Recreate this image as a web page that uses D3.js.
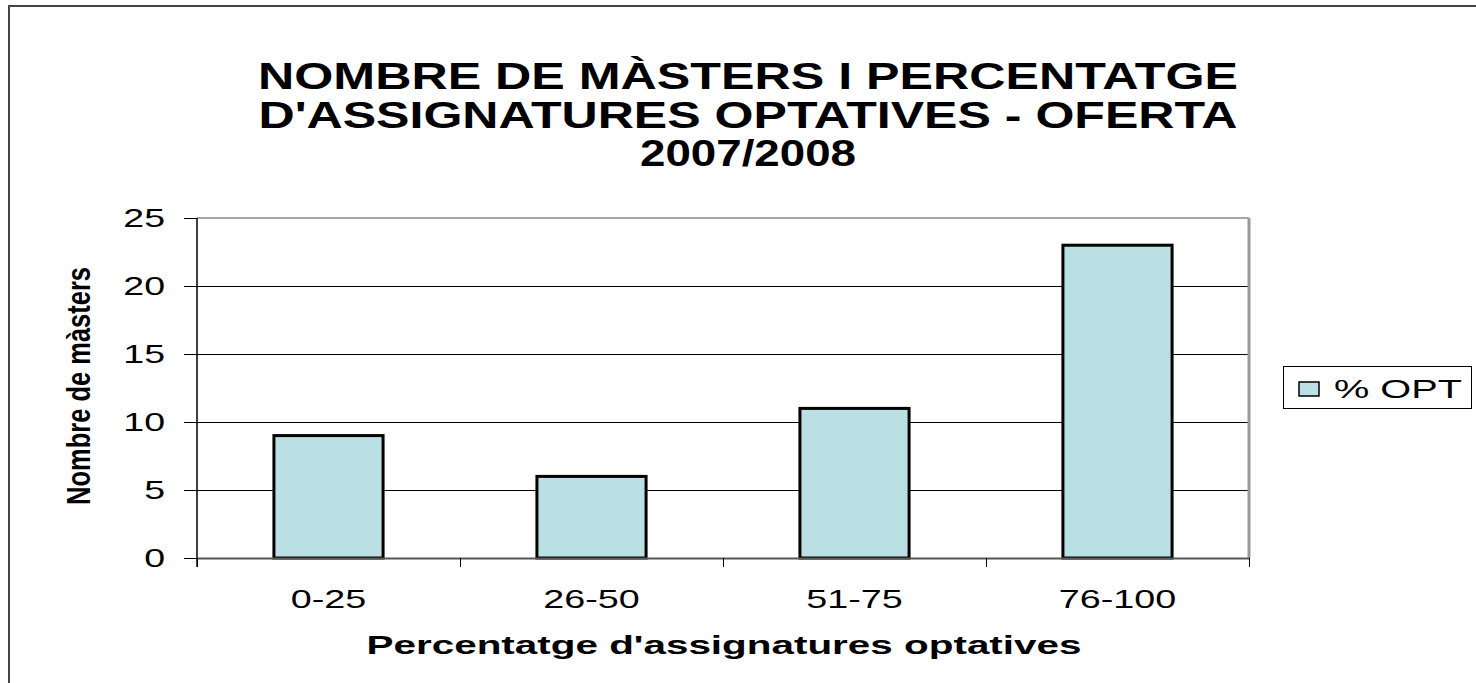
<!DOCTYPE html>
<html>
<head>
<meta charset="utf-8">
<script src="https://cdn.jsdelivr.net/npm/d3@7"></script>
<style>
  html, body { margin: 0; padding: 0; background: #fff; }
  svg { display: block; font-family: "Liberation Sans", Arial, sans-serif; }
</style>
</head>
<body>
<svg id="chart" width="1476" height="683"></svg>
<script>
// ---- data ----
const categories = ["0-25", "26-50", "51-75", "76-100"];
const values = [9, 6, 11, 23];
const yTicks = [0, 5, 10, 15, 20, 25];
const seriesName = "% OPT";
const titleLines = ["NOMBRE DE MÀSTERS I PERCENTATGE", "D'ASSIGNATURES OPTATIVES - OFERTA", "2007/2008"];
const yTitle = "Nombre de màsters";
const xTitle = "Percentatge d'assignatures optatives";

// ---- drawing ----
const svg = d3.select("#chart");
const barFill = "#BBE0E3";

function stretch(sel, factor) {
  sel.each(function () {
    const w = this.getComputedTextLength();
    d3.select(this).attr("textLength", w * factor).attr("lengthAdjust", "spacingAndGlyphs");
  });
}

// outer chart frame
svg.append("path")
  .attr("d", "M9,690 L9,6 L1480,6")
  .attr("fill", "none").attr("stroke", "#444").attr("stroke-width", 2);

const pLeft = 197, pRight = 1249, pTop = 218, pBottom = 558;

const x = d3.scaleBand().domain(categories).range([pLeft, pRight])
  .paddingInner(0.585).paddingOuter(0.2925);
const xEdge = d3.scaleLinear().domain([0, categories.length]).range([pLeft, pRight]);
const y = d3.scaleLinear().domain([0, 25]).range([pBottom, pTop]);

// gridlines
svg.append("g").selectAll("line").data(yTicks.filter(d => d > 0 && d < 25)).join("line")
  .attr("x1", pLeft).attr("x2", pRight)
  .attr("y1", d => y(d) + 0.5).attr("y2", d => y(d) + 0.5)
  .attr("stroke", "#000").attr("stroke-width", 1)
  .attr("shape-rendering", "crispEdges");

// plot border top / right (grey)
svg.append("line").attr("x1", pLeft).attr("x2", pRight).attr("y1", y(25)).attr("y2", y(25))
  .attr("stroke", "#888").attr("stroke-width", 1.5);
svg.append("line").attr("x1", pRight).attr("x2", pRight).attr("y1", y(25)).attr("y2", pBottom)
  .attr("stroke", "#999").attr("stroke-width", 3);

// bars
svg.append("g").selectAll("rect").data(values).join("rect")
  .attr("x", (d, i) => x(categories[i]))
  .attr("y", d => y(d))
  .attr("width", x.bandwidth())
  .attr("height", d => y(0) - y(d))
  .attr("fill", barFill)
  .attr("stroke", "#000").attr("stroke-width", 3);

// y axis
const yAxis = svg.append("g").attr("transform", `translate(${pLeft},0)`)
  .call(d3.axisLeft(y).tickValues(yTicks).tickSize(13).tickPadding(19).tickSizeOuter(0));
yAxis.select(".domain").attr("stroke", "#000").attr("stroke-width", 1.5)
  .attr("d", `M0,${pTop}V${pBottom + 9}`);
yAxis.selectAll(".tick line").attr("stroke", "#000").attr("shape-rendering", "crispEdges");
yAxis.selectAll(".tick text").attr("font-size", 25).attr("fill", "#000")
  .attr("font-family", "Liberation Sans, Arial, sans-serif").call(stretch, 1.5);

// x axis (ticks at category boundaries)
const xAxis = svg.append("g").attr("transform", `translate(0,${pBottom})`)
  .call(d3.axisBottom(xEdge).tickValues(d3.range(categories.length + 1)).tickSize(9).tickFormat("").tickSizeOuter(0));
xAxis.select(".domain").attr("stroke", "#555").attr("stroke-width", 2);
xAxis.selectAll(".tick line").attr("stroke", "#000");

svg.append("g").selectAll("text").data(categories).join("text")
  .attr("x", d => x(d) + x.bandwidth() / 2)
  .attr("y", 608)
  .attr("text-anchor", "middle")
  .attr("font-size", 26)
  .text(d => d)
  .call(stretch, 1.45);

// title
const titleWidths = [980, 979, 216];
svg.append("g").selectAll("text").data(titleLines).join("text")
  .attr("x", 748)
  .attr("y", (d, i) => 89 + i * 38.5)
  .attr("text-anchor", "middle")
  .attr("font-size", 36).attr("font-weight", "bold")
  .attr("textLength", (d, i) => titleWidths[i]).attr("lengthAdjust", "spacingAndGlyphs")
  .text(d => d);

// axis titles
svg.append("text")
  .attr("transform", `translate(90,${(pTop + pBottom) / 2 - 2}) rotate(-90)`)
  .attr("text-anchor", "middle")
  .attr("font-size", 34).attr("font-weight", "bold")
  .attr("textLength", 238).attr("lengthAdjust", "spacingAndGlyphs")
  .text(yTitle);

svg.append("text")
  .attr("x", 724).attr("y", 654)
  .attr("text-anchor", "middle")
  .attr("font-size", 25).attr("font-weight", "bold")
  .attr("textLength", 715).attr("lengthAdjust", "spacingAndGlyphs")
  .text(xTitle);

// legend
const lg = svg.append("g");
lg.append("rect").attr("x", 1283.5).attr("y", 366.5).attr("width", 188).attr("height", 42)
  .attr("fill", "#fff").attr("stroke", "#000").attr("stroke-width", 1);
lg.append("rect").attr("x", 1299).attr("y", 382).attr("width", 20).attr("height", 14)
  .attr("fill", barFill).attr("stroke", "#000").attr("stroke-width", 1.5);
lg.append("text").attr("x", 1334).attr("y", 398)
  .attr("font-size", 26)
  .attr("textLength", 128).attr("lengthAdjust", "spacingAndGlyphs")
  .text(seriesName);
</script>
</body>
</html>
